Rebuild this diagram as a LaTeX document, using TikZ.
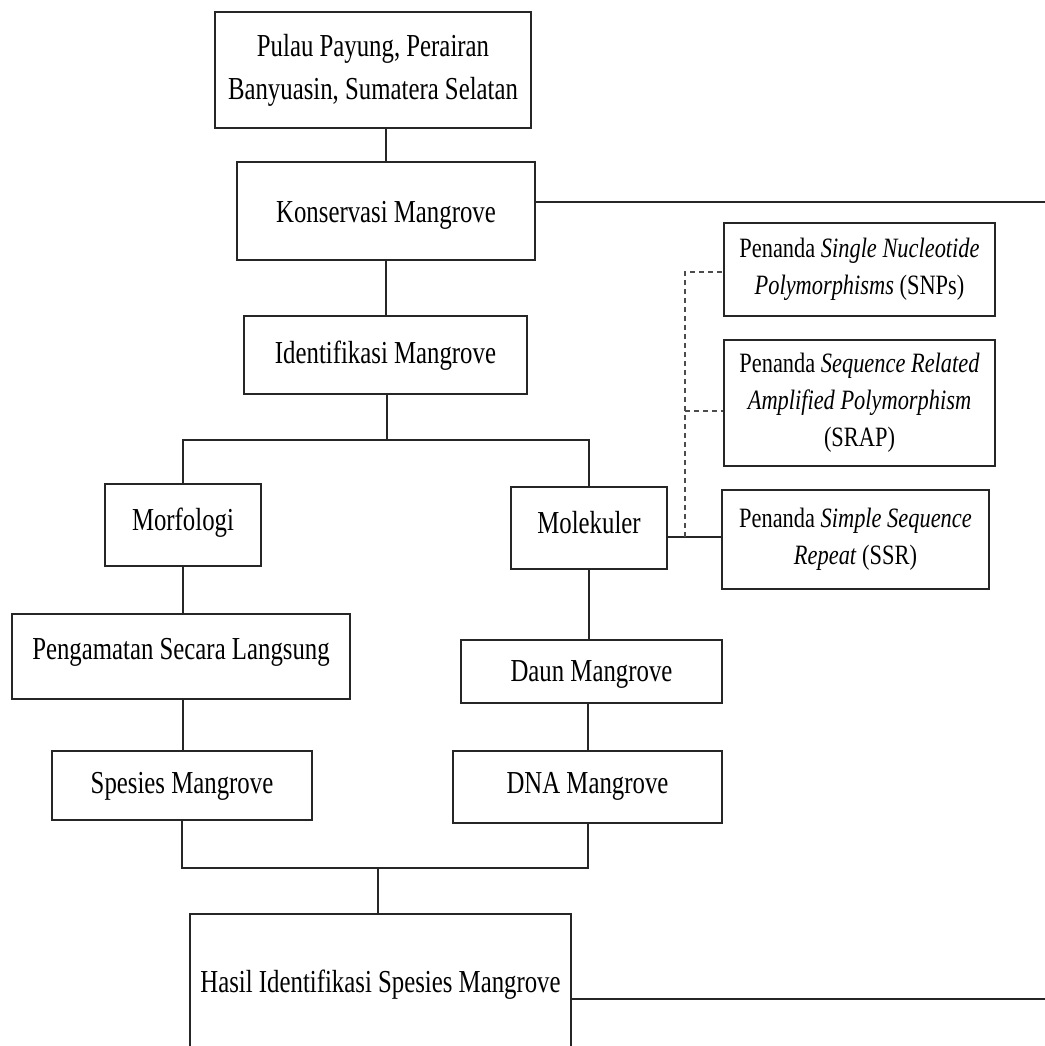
\documentclass[tikz,border=0pt]{standalone}
\usepackage{fontspec}
\setmainfont{Liberation Serif}[FakeStretch=0.775]
\newfontfamily\rfont{Liberation Serif}[FakeStretch=0.80]
\begin{document}
\begin{tikzpicture}[x=0.5pt,y=-0.5pt,
  box/.style={draw=black!85, line width=1pt, inner sep=0pt, align=center,
    font=\fontsize{16}{21.5}\selectfont},
  rbox/.style={box, font=\rfont\fontsize{14}{18.5}\selectfont},
  one/.style={text height=12pt, text depth={12pt-#1}},
  conn/.style={draw=black!85, line width=1pt},
  dconn/.style={draw=black!70, line width=0.8pt, dash pattern=on 2.5pt off 2pt}]
\clip (0,0) rectangle (1045,1046);
\useasboundingbox (0,0) rectangle (1045,1046);
% nodes
\node[box, minimum width=158pt, minimum height=58pt] (pulau) at (373,70) {Pulau Payung, Perairan\\Banyuasin, Sumatera Selatan};
\node[box, one=11pt, minimum width=149pt, minimum height=49pt] (kons) at (386,211) {Konservasi Mangrove};
\node[box, one=8pt, minimum width=141.5pt, minimum height=39pt] (ident) at (385.5,355) {Identifikasi Mangrove};
\node[box, one=5pt, minimum width=78pt, minimum height=41pt] (morf) at (183,525) {Morfologi};
\node[box, one=5pt, minimum width=78pt, minimum height=41pt] (mol) at (589,528) {Molekuler};
\node[box, one=2.5pt, minimum width=169pt, minimum height=42.5pt] (peng) at (181,656.5) {Pengamatan Secara Langsung};
\node[box, one=7.5pt, minimum width=130pt, minimum height=34.5pt] (spes) at (182,785.5) {Spesies Mangrove};
\node[box, one=9.5pt, minimum width=130.5pt, minimum height=31.5pt] (daun) at (591.5,671.5) {Daun Mangrove};
\node[box, one=6pt, minimum width=134.5pt, minimum height=36pt] (dna) at (587.5,787) {DNA Mangrove};
\node[box, one=5pt, minimum width=190.5pt, minimum height=73pt] (hasil) at (380.5,987) {Hasil Identifikasi Spesies Mangrove};
\node[rbox, minimum width=135.5pt, minimum height=46.5pt] (snp) at (859.5,269.5) {Penanda \textit{Single Nucleotide}\\\textit{Polymorphisms} (SNPs)};
\node[rbox, minimum width=135.5pt, minimum height=63pt] (srap) at (859.5,403) {Penanda \textit{Sequence Related}\\\textit{Amplified Polymorphism}\\(SRAP)};
\node[rbox, minimum width=133.5pt, minimum height=49.5pt] (ssr) at (855.5,539.5) {Penanda \textit{Simple Sequence}\\\textit{Repeat} (SSR)};
% coordinates
\coordinate (kr) at (1045,202);
\coordinate (hr) at (1045,999);
\coordinate (j1) at (387,440);
\coordinate (j2) at (378,868);
\coordinate (d0) at (685,537);
\coordinate (d1) at (685,272);
\coordinate (d2) at (685,411);
% connectors
\draw[conn] (pulau.south -| kons.north) -- (kons.north);
\draw[conn] (kons.south) -- (kons.south -| ident.north) -- (ident.north);
\draw[conn] (j1 |- ident.south) -- (j1);
\draw[conn] (morf.north) -- (morf.north |- j1) -- (mol.north |- j1) -- (mol.north);
\draw[conn] (morf.south) -- (peng.north -| morf.south);
\draw[conn] (peng.south -| morf.south) -- (spes.north -| morf.south);
\draw[conn] (mol.south) -- (daun.north -| mol.south);
\draw[conn] (daun.south -| dna.south) -- (dna.north);
\draw[conn] (spes.south) -- (spes.south |- j2) -- (dna.south |- j2) -- (dna.south);
\draw[conn] (j2) -- (j2 |- hasil.north);
\draw[conn] (kons.east |- kr) -- (kr);
\draw[conn] (hasil.east |- hr) -- (hr);
\draw[conn] (mol.east |- d0) -- (d0 -| ssr.west);
\draw[dconn] (d0) -- (d1) -- (d1 -| snp.west);
\draw[dconn] (d2) -- (d2 -| srap.west);
\end{tikzpicture}
\end{document}
